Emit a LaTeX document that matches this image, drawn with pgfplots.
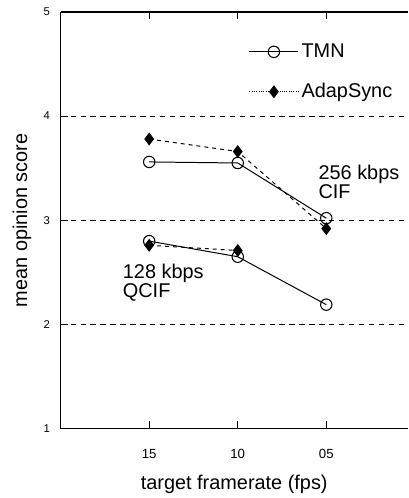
\documentclass[border=0pt]{standalone}
\usepackage{fontspec}
\setmainfont{Liberation Sans}
\usepackage{pgfplots}
\pgfplotsset{compat=1.18}

\begin{document}
\begin{tikzpicture}
\begin{axis}[
  name=ax,
  scale only axis, width=261.75pt, height=314.25pt,
  xmin=0, xmax=3.92, ymin=1, ymax=5,
  axis y line*=left,
  xtick={1,2,3}, xticklabels={15,10,05},
  ytick={1,2,3,4,5},
  xtick pos=both, tick align=inside,
  major tick length=5.5pt,
  tick style={line width=0.8pt, black},
  axis line style={line width=0.9pt},
  /pgf/number format/assume math mode=true,
  x tick label style={font=\fontsize{10}{12}\selectfont, yshift=-11.8pt},
  y tick label style={font=\fontsize{8.5}{10}\selectfont, xshift=-4.5pt},
  xlabel={target framerate (fps)},
  xlabel style={font=\fontsize{15}{17}\selectfont, at={(axis description cs:0.5,0)}, anchor=center, yshift=-42pt},
  ylabel={mean opinion score},
  ylabel style={font=\fontsize{15}{17}\selectfont, at={(axis description cs:-0.1117,0.5)}, anchor=center},
  ymajorgrids, grid style={black, line width=0.8pt, dash pattern=on 4pt off 3.5pt},
  legend style={at={(0.5415,0.93)}, anchor=north west, draw=none, fill=none,
    font=\fontsize{15}{17}\selectfont, row sep=14pt, inner sep=0pt},
  legend cell align=left,
  legend image code/.code={\draw[mark repeat=2,mark phase=2] plot coordinates {(0cm,0cm) (0.65cm,0cm) (1.3cm,0cm)};},
]
% 256 kbps CIF
\addplot[black, line width=0.75pt, mark=o, mark size=4.3pt, mark options={solid, line width=0.8pt}]
  coordinates {(1,3.56) (2,3.55) (3,3.02)};
\addplot[black, line width=0.75pt, dashed, mark=diamond*, mark size=4.3pt, mark options={solid},
  legend image code/.code={\draw[densely dotted, mark repeat=2, mark phase=2] plot coordinates {(0cm,0cm) (0.65cm,0cm) (1.3cm,0cm)};}]
  coordinates {(1,3.78) (2,3.66) (3,2.92)};
% 128 kbps QCIF
\addplot[black, line width=0.75pt, mark=o, mark size=4.3pt, mark options={solid, line width=0.8pt}, forget plot]
  coordinates {(1,2.80) (2,2.65) (3,2.19)};
\addplot[black, line width=0.75pt, dashed, mark=diamond*, mark size=4.3pt, mark options={solid}, forget plot]
  coordinates {(1,2.76) (2,2.71)};
\legend{TMN, AdapSync}
\node[anchor=north west, align=left, font=\fontsize{15}{14}\selectfont, inner sep=0pt] at (axis cs:2.91,3.53) {256 kbps\\CIF};
\node[anchor=north west, align=left, font=\fontsize{15}{14}\selectfont, inner sep=0pt] at (axis cs:0.70,2.58) {128 kbps\\QCIF};
\end{axis}
\path (ax.south west) +(-45.75pt,-50.25pt) (ax.north east) +(0pt,9pt);
\end{tikzpicture}
\end{document}
